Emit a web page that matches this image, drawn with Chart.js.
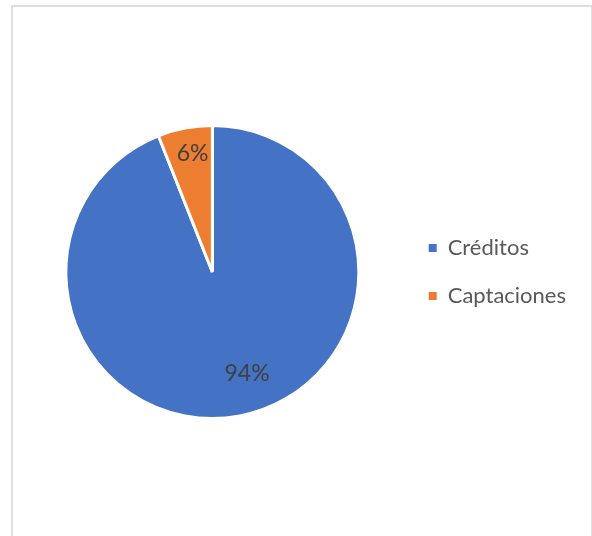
<!DOCTYPE html>
<html>
<head>
<meta charset="utf-8">
<script src="https://cdn.jsdelivr.net/npm/chart.js@4"></script>
<style>
	html, body { margin: 0; padding: 0; background: #fff; }
	#frame { position: absolute; left: 11px; top: 5px; width: 578px; height: 540px; border: 2px solid #dedede; border-bottom: none; }
	#wrap { position: absolute; left: 13px; top: 7px; width: 577px; height: 529px; }
</style>
</head>
<body>
<div id="frame"></div>
<div id="wrap"><canvas id="myPieChart"></canvas></div>
<script>
//categories and their share of the total (%)
const categories = ['Créditos', 'Captaciones'];
const shares = [94, 6];
const colors = ['#4472C4', '#ED7D31'];

//draws the percentage text inside each slice
const sliceLabels = {
	id: 'sliceLabels',
	afterDatasetsDraw(chart, args, opts) {
		const ctx = chart.ctx;
		const meta = chart.getDatasetMeta(0);
		meta.data.forEach((arc, i) => {
			const p = arc.getProps(['x', 'y', 'startAngle', 'endAngle', 'outerRadius'], true);
			const place = opts.place[i];
			const a = (p.startAngle + p.endAngle) / 2 + place.turn * Math.PI / 180;
			const r = p.outerRadius * place.radius;
			ctx.save();
			ctx.font = opts.font;
			ctx.fillStyle = opts.color;
			ctx.textAlign = 'center';
			ctx.textBaseline = 'middle';
			ctx.fillText(chart.data.datasets[0].data[i] + '%', p.x + Math.cos(a) * r, p.y + Math.sin(a) * r);
			ctx.restore();
		});
	}
};

const ctx = document.getElementById('myPieChart').getContext('2d');
new Chart(ctx, {
	type: 'pie',
	data: {
		labels: categories,
		datasets: [{
			data: shares,
			backgroundColor: colors,
			borderColor: '#fff',
			borderWidth: 3
		}]
	},
	options: {
		responsive: true,
		maintainAspectRatio: false,
		animation: false,
		layout: {
			padding: { top: 117, bottom: 116, left: 9, right: 14 }
		},
		plugins: {
			tooltip: { enabled: false },
			legend: {
				position: 'right',
				labels: {
					boxWidth: 8,
					boxHeight: 8,
					padding: 26,
					color: '#595959',
					font: { family: 'Lato', size: 22 },
					generateLabels(chart) {
						const items = Chart.overrides.pie.plugins.legend.labels.generateLabels(chart);
						return items.map(item => Object.assign(item, { lineWidth: 0 }));
					}
				}
			},
			sliceLabels: {
				font: '23px Lato',
				color: '#404040',
				place: [{ radius: 0.736, turn: -8 }, { radius: 0.818, turn: 1.3 }]
			}
		}
	},
	plugins: [sliceLabels]
});
</script>
</body>
</html>
